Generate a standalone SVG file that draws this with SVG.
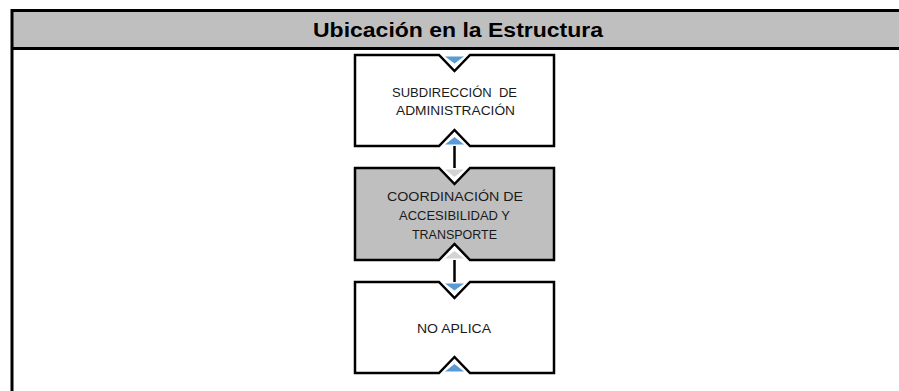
<svg xmlns="http://www.w3.org/2000/svg" width="899" height="391" viewBox="0 0 899 391">
<style>
.frame{fill:none;stroke:#000;stroke-width:3}
.box{stroke:#000;stroke-width:2.5;stroke-linejoin:miter}
.white{fill:#fff}
.grey{fill:#bfbfbf}
.blue{fill:#5b9bd5}
.lgrey{fill:#d3d3d3}
.conn{stroke:#000;stroke-width:2.5;fill:none}
.title{font-family:"Liberation Sans",Arial,sans-serif;font-size:20px;font-weight:bold;fill:#000;text-anchor:middle}
.lbl{font-family:"Liberation Sans",Arial,sans-serif;font-size:13px;fill:#1a1a1a;text-anchor:middle}
</style>
<rect x="0" y="0" width="899" height="391" fill="#fff"/>
<g id="header">
<rect x="12" y="10.5" width="890" height="38" fill="#bfbfbf"/>
<path class="frame" d="M902,10.5 H12 V395 M12,48.5 H902"/>
<text class="title" x="458" y="37" textLength="290" lengthAdjust="spacingAndGlyphs">Ubicación en la Estructura</text>
</g>
<g id="connectors">
<line class="conn" x1="454.5" y1="146" x2="454.5" y2="168"/>
<line class="conn" x1="454.5" y1="260" x2="454.5" y2="282"/>
</g>
<g id="node1">
<path class="box white" d="M355,55 H439 L454.5,71 L470,55 H554 V146 H470 L454.5,130 L439,146 H355 Z"/>
<polygon class="blue" points="445,56.5 464,56.5 454.5,63.5"/>
<polygon class="blue" points="445,144.5 464,144.5 454.5,137"/>
<text class="lbl" x="454.5" y="96.5" xml:space="preserve" textLength="125" lengthAdjust="spacingAndGlyphs">SUBDIRECCIÓN  DE</text>
<text class="lbl" x="455.5" y="115" textLength="119" lengthAdjust="spacingAndGlyphs">ADMINISTRACIÓN</text>
</g>
<g id="node2">
<path class="box grey" d="M355,168 H439 L454.5,184 L470,168 H554 V260 H470 L454.5,244 L439,260 H355 Z"/>
<polygon class="lgrey" points="445,169.5 464,169.5 454.5,177"/>
<polygon class="lgrey" points="445,258.5 464,258.5 454.5,251"/>
<text class="lbl" x="455" y="200.5" textLength="136" lengthAdjust="spacingAndGlyphs">COORDINACIÓN DE</text>
<text class="lbl" x="454.5" y="220" textLength="111" lengthAdjust="spacingAndGlyphs">ACCESIBILIDAD Y</text>
<text class="lbl" x="454.5" y="238.5" textLength="85" lengthAdjust="spacingAndGlyphs">TRANSPORTE</text>
</g>
<g id="node3">
<path class="box white" d="M355,282 H439 L454.5,298 L470,282 H554 V373 H470 L454.5,357 L439,373 H355 Z"/>
<polygon class="blue" points="445,283.5 464,283.5 454.5,290.5"/>
<polygon class="blue" points="445,371.5 464,371.5 454.5,364"/>
<text class="lbl" x="454" y="333" textLength="74" lengthAdjust="spacingAndGlyphs">NO APLICA</text>
</g>
</svg>
